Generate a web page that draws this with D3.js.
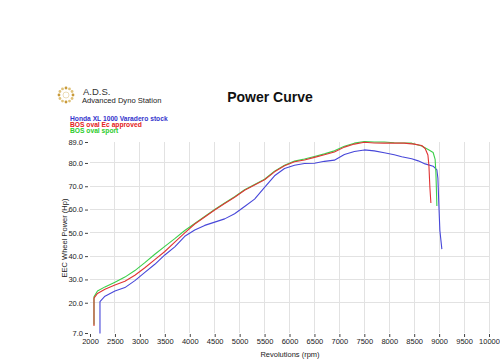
<!DOCTYPE html>
<html><head><meta charset="utf-8">
<script src="https://cdn.jsdelivr.net/npm/d3@7/dist/d3.min.js"></script>
<style>body{margin:0;background:#fff}svg{display:block}text{font-family:"Liberation Sans",Arial,sans-serif}</style>
</head><body><svg id="c" width="500" height="364"></svg>
<script>
const xTicks = [2000,2500,3000,3500,4000,4500,5000,5500,6000,6500,7000,7500,8000,8500,9000,9500,10000];
const yTicks = [7,20,30,40,50,60,70,80,89];
const seriesNames = ["Honda  XL 1000 Varadero stock","BOS oval Ec approved","BOS oval sport"];
const seriesColors = ["#4747d9","#e03434","#3ccf4a"];
const legendColors = ["#3535cc","#e42020","#2ccc2c"];

const stockRpm = [2200,2200,2300,2500,2700,2900,3100,3300,3500,3700,3900,4100,4300,4500,4700,4900,5100,5300,5500,5700,5900,6100,6300,6500,6700,6900,7100,7300,7500,7700,7900,8100,8250,8450,8580,8720,8880,8955,8975,8995,9015,9055];
const stockHp  = [6.8,20.5,22.8,25.0,26.5,29.5,33.0,36.5,40.5,44.0,48.5,51.2,53.2,54.6,56.0,58.2,61.3,64.5,69.5,74.5,77.6,79.0,79.8,79.9,80.7,81.2,83.6,84.9,85.6,85.2,84.4,83.5,82.7,81.8,80.9,79.6,78.6,77.0,73.5,62.0,51.0,43.0];

const ecRpm = [2080,2080,2150,2300,2500,2700,2900,3100,3300,3500,3700,3900,4100,4300,4500,4700,4900,5100,5300,5500,5700,5900,6100,6300,6500,6700,6900,7100,7300,7500,7700,7900,8100,8300,8500,8650,8720,8775,8795,8815,8835];
const ecHp  = [10.0,22.0,24.0,25.8,27.6,29.2,31.8,35.0,38.5,42.0,46.0,50.0,53.8,56.8,59.8,62.6,65.3,68.3,70.5,72.8,76.2,78.8,80.5,81.3,82.4,83.5,84.7,86.8,88.1,88.9,88.6,88.5,88.6,88.5,88.1,87.5,86.2,83.4,79.0,69.5,62.8];

const sportRpm = [2080,2080,2150,2300,2500,2700,2900,3100,3300,3500,3700,3900,4100,4300,4500,4700,4900,5100,5300,5500,5700,5900,6100,6300,6500,6700,6900,7100,7300,7500,7700,7900,8100,8300,8450,8650,8780,8880,8920,8935,8945,8955];
const sportHp  = [10.5,22.5,25.0,26.8,28.8,31.0,33.8,37.2,40.8,44.2,47.5,51.0,54.0,57.0,60.0,62.8,65.5,68.5,70.8,73.0,76.5,79.0,80.8,81.7,82.8,83.9,85.2,87.2,88.5,89.2,89.0,89.0,88.7,88.6,88.5,87.3,85.8,84.5,81.5,76.0,69.0,61.5];

const svg = d3.select("#c");
const x = d3.scaleLinear().domain([2000,10000]).range([90,489]);
const y = d3.scaleLinear().domain([7,89]).range([333,142]);

// grid
svg.append("g").selectAll("line").data(xTicks.slice(1)).join("line")
  .attr("x1",d=>x(d)).attr("x2",d=>x(d)).attr("y1",y(89)).attr("y2",y(7))
  .attr("stroke","#e2e2e2").attr("stroke-width",1).attr("shape-rendering","crispEdges");
svg.append("g").selectAll("line").data(yTicks.slice(1,-1)).join("line")
  .attr("x1",x(2000)).attr("x2",x(10000)).attr("y1",d=>y(d)).attr("y2",d=>y(d))
  .attr("stroke","#e2e2e2").attr("stroke-width",1).attr("shape-rendering","crispEdges");

// y axis
const yAxis = d3.axisLeft(y).tickValues(yTicks).tickFormat(d3.format(".1f")).tickSize(3).tickPadding(2);
const gy = svg.append("g").attr("transform","translate(88,0)").call(yAxis);
gy.select(".domain").remove();
gy.selectAll("text").attr("font-size",7.5).attr("fill","#222").style("font-family","Liberation Sans, Arial, sans-serif");
gy.selectAll("line").attr("stroke","#444");

// x axis
const xAxis = d3.axisBottom(x).tickValues(xTicks).tickFormat(d3.format("d")).tickSize(3).tickPadding(2);
const gx = svg.append("g").attr("transform","translate(0,334)").call(xAxis);
gx.select(".domain").remove();
gx.selectAll("text").attr("font-size",7.5).attr("fill","#222").style("font-family","Liberation Sans, Arial, sans-serif");
gx.selectAll("line").attr("stroke","#444");

// axis titles
svg.append("text").attr("x",290).attr("y",357).attr("text-anchor","middle").attr("font-size",7.5).attr("fill","#222").text("Revolutions (rpm)");
svg.append("text").attr("transform","translate(67,238) rotate(-90)").attr("text-anchor","middle").attr("font-size",7.5).attr("fill","#222").text("EEC Wheel Power (Hp)");

// lines
const line = d3.line().x(d=>x(d[0])).y(d=>y(d[1]));
const seriesData = [d3.zip(stockRpm,stockHp), d3.zip(ecRpm,ecHp), d3.zip(sportRpm,sportHp)];
[0,2,1].forEach(i=>{
  svg.append("path").datum(seriesData[i]).attr("d",line).attr("fill","none")
    .attr("stroke",seriesColors[i]).attr("stroke-width",1.1).attr("stroke-linejoin","round");
});

// title
svg.append("text").attr("x",270).attr("y",102).attr("text-anchor","middle").attr("font-size",14).attr("font-weight","bold").attr("fill","#111").text("Power Curve");

// logo
const logo = svg.append("g").attr("transform","translate(66,95)");
d3.range(12).forEach(k=>{
  const a = k/12*2*Math.PI;
  logo.append("circle").attr("cx",7*Math.cos(a)).attr("cy",7*Math.sin(a)).attr("r",1.4)
    .attr("fill", k%3===0 ? "#c89a3a" : "#e0c27a");
});
logo.append("circle").attr("r",3).attr("fill","none").attr("stroke","#e6d3a6").attr("stroke-width",0.8);
svg.append("text").attr("x",83).attr("y",95).attr("font-size",9.5).attr("fill","#333").text("A.D.S.");
svg.append("text").attr("x",82).attr("y",103).attr("font-size",7.6).attr("fill","#222").text("Advanced Dyno Station");

// legend
seriesNames.forEach((n,i)=>{
  svg.append("text").attr("x",70).attr("y",121+i*6.2).attr("font-size",6.7).attr("font-weight","bold")
    .attr("fill",legendColors[i]).text(n);
});
</script></body></html>
